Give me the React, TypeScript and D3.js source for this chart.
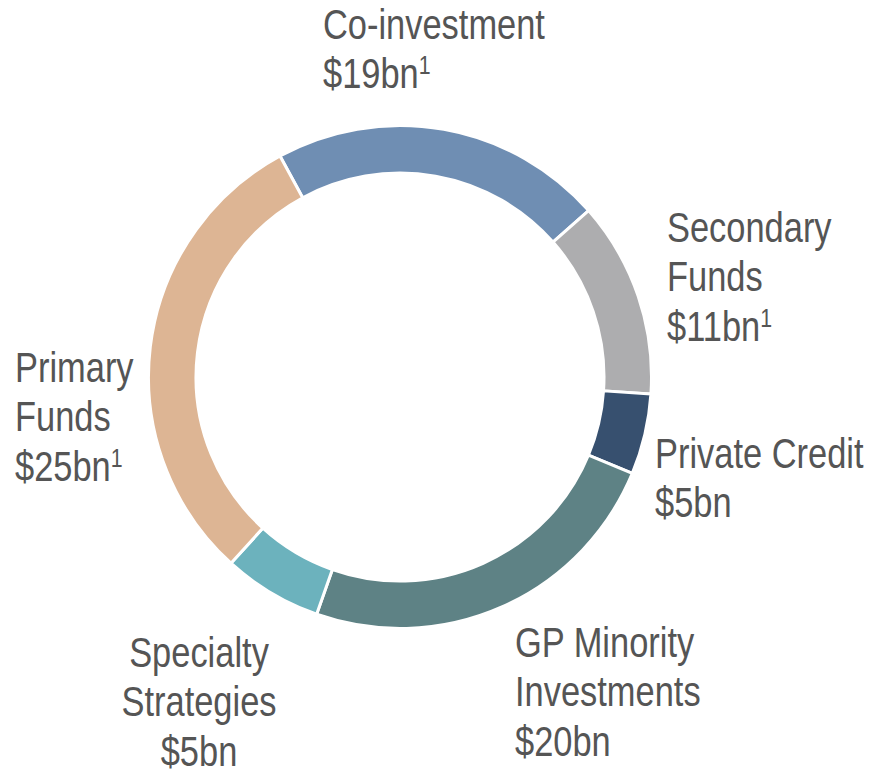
import React from "react";
import * as d3 from "d3";

// slice sizes estimated from the arc angles in the picture ($bn)
const categories = [
  "Co-investment",
  "Secondary Funds",
  "Private Credit",
  "GP Minority Investments",
  "Specialty Strategies",
  "Primary Funds",
];
const sliceValues = [18.2, 10.7, 4.4, 20.5, 5.4, 25.8];
const amountLabels = ["$19bn", "$11bn", "$5bn", "$20bn", "$5bn", "$25bn"];
const footnote = [true, true, false, false, false, true];
const labelLines = [
  ["Co-investment"],
  ["Secondary", "Funds"],
  ["Private Credit"],
  ["GP Minority", "Investments"],
  ["Specialty", "Strategies"],
  ["Primary", "Funds"],
];

const colors = ["#6f8eb3", "#adadaf", "#37506f", "#5e8285", "#6cb2bd", "#ddb594"];

// label anchor: x, first baseline, text-anchor
const labelPos: [number, number, string][] = [
  [323, 39, "start"],
  [667, 242, "start"],
  [655, 468, "start"],
  [515, 657, "start"],
  [199, 667, "middle"],
  [15, 382, "start"],
];

const W = 871;
const H = 775;
const cx = 400;
const cy = 377;
const lineH = 49.5;
// no narrow font installed: squeeze Liberation Sans horizontally instead
const squeeze = 0.82;

const App = () => {
  const records = categories.map((c, i) => ({ category: c, value: sliceValues[i] }));
  const start = (-28.5 * Math.PI) / 180;
  const pieData = d3
    .pie<{ category: string; value: number }>()
    .sort(null)
    .value((d) => d.value)
    .startAngle(start)
    .endAngle(start + 2 * Math.PI)(records);
  const arcGen = d3
    .arc<d3.PieArcDatum<{ category: string; value: number }>>()
    .innerRadius(204)
    .outerRadius(251.5);

  return (
    <svg
      width={W}
      height={H}
      style={{ position: "absolute", left: 0, top: 0, background: "#fff" }}
      fontFamily="'Liberation Sans', Arial, sans-serif"
    >
      <g transform={`translate(${cx},${cy})`}>
        {pieData.map((d, i) => (
          <path key={i} d={arcGen(d) || ""} fill={colors[i]} stroke="#fff" strokeWidth={3} />
        ))}
      </g>
      {categories.map((c, i) => {
        const [x, y, anchor] = labelPos[i];
        const lines = labelLines[i];
        return (
          <text
            key={c}
            transform={`translate(${x},${y}) scale(${squeeze},1)`}
            textAnchor={anchor as any}
            fontSize={42}
            fill="#555"
          >
            {lines.map((l, j) => (
              <tspan key={j} x={0} y={j * lineH}>
                {l}
              </tspan>
            ))}
            <tspan x={0} y={lines.length * lineH}>
              {amountLabels[i]}
            </tspan>
            {footnote[i] && (
              <tspan fontSize={26} dy={-14}>
                1
              </tspan>
            )}
          </text>
        );
      })}
    </svg>
  );
};

export default App;
